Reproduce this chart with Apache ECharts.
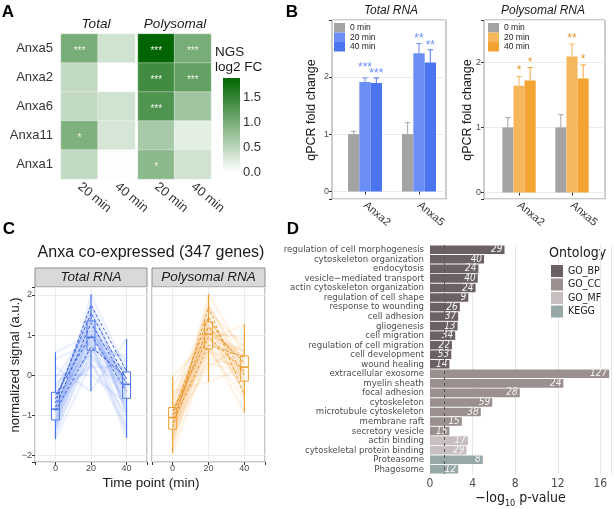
<!DOCTYPE html>
<html>
<head>
<meta charset="utf-8">
<script src="https://cdn.jsdelivr.net/npm/echarts@6/dist/echarts.min.js"></script>
<style>
html, body { margin: 0; padding: 0; background: #fff; }
#chart { width: 614px; height: 509px; }
</style>
</head>
<body>
<div id="chart"></div>
<script>
// ---------- A: NGS heatmap ----------
var heatGenes = ['Anxa5', 'Anxa2', 'Anxa6', 'Anxa11', 'Anxa1'];
var heatTimes = ['20 min', '40 min'];
var heatTotal = [[1.0, 0.35], [0.45, 0.0], [0.45, 0.35], [0.95, 0.3], [0.45, 0.02]]; // [20, 40] per gene
var heatPoly = [[1.88, 1.0], [1.4, 1.15], [1.3, 0.7], [0.65, 0.2], [0.85, 0.35]];
var starsTotal = [['***', ''], ['', ''], ['', ''], ['*', ''], ['', '']];
var starsPoly = [['***', '***'], ['***', '***'], ['***', ''], ['', ''], ['*', '']];
var heatMax = 1.88;

// ---------- B: qPCR ----------
var qpcrGenes = ['Anxa2', 'Anxa5'];
var qpcrTimes = ['0 min', '20 min', '40 min'];
var totalMean0 = [1.0, 1.0];
var totalMean20 = [1.91, 2.41];
var totalMean40 = [1.89, 2.25];
var totalErr0 = [1.05, 1.2];
var totalErr20 = [1.98, 2.58];
var totalErr40 = [1.98, 2.47];
var totalStars20 = ['***', '**'];
var totalStars40 = ['***', '**'];
var totalStarY20 = [2.21, 2.71];   // height of the star labels
var totalStarY40 = [2.09, 2.59];
var polyMean0 = [1.0, 1.0];
var polyMean20 = [1.64, 2.09];
var polyMean40 = [1.72, 1.75];
var polyErr0 = [1.15, 1.195];
var polyErr20 = [1.78, 2.28];
var polyErr40 = [1.92, 1.96];
var polyStars20 = ['*', '**'];
var polyStars40 = ['*', '*'];
var polyStarY20 = [1.91, 2.4];
var polyStarY40 = [2.03, 2.08];

// ---------- C: co-expressed genes ----------
var timePoints = [0, 20, 40];
var totalGenes = [
  [-1.6, 0.3, -1.0], [-1.5, 0.8, -1.4], [-1.4, 1.2, -0.9], [-1.35, 0.5, -0.6], [-1.3, 1.6, -0.3],
  [-1.25, 0.9, -1.2], [-1.2, 1.4, -0.5], [-1.15, 0.6, -0.2], [-1.1, 1.1, -0.8], [-1.05, 1.8, -0.4],
  [-1.0, 0.7, 0.1], [-0.95, 1.3, -0.7], [-0.9, 0.95, -0.25], [-0.88, 1.5, -1.0], [-0.85, 0.4, -0.35],
  [-0.83, 1.0, 0.3], [-0.8, 1.2, -0.6], [-0.75, 0.75, -0.1], [-0.7, 1.7, -0.45], [-0.65, 0.85, 0.05],
  [-0.6, 1.35, -0.9], [-0.55, 0.6, 0.5], [-0.5, 1.1, -0.15], [-0.45, 0.2, 0.2], [-0.4, 1.45, -0.55],
  [-0.3, 0.9, 0.4], [-0.2, 0.5, -0.3], [-0.1, 1.25, 0.0], [0.0, 0.0, -0.7], [0.2, -0.4, 0.9],
  [0.4, 0.8, -1.57], [0.57, 1.0, -0.2], [-1.2, 2.0, 0.1], [-0.7, 0.3, -1.3]
];
var polyGenes = [
  [-1.95, 0.6, 0.3], [-1.8, 1.2, -0.5], [-1.7, 0.9, 0.6], [-1.6, 1.5, -0.2], [-1.5, 0.4, 0.2],
  [-1.45, 1.1, 0.9], [-1.4, 0.7, -0.1], [-1.35, 1.35, 0.4], [-1.3, 1.8, 0.0], [-1.25, 0.8, 0.5],
  [-1.2, 1.0, -0.4], [-1.15, 1.25, 0.25], [-1.1, 0.55, 0.1], [-1.08, 1.6, 0.7], [-1.05, 0.95, -0.15],
  [-1.0, 1.15, 0.35], [-0.97, 0.65, -0.6], [-0.95, 1.4, 0.15], [-0.9, 0.85, 1.27], [-0.85, 1.05, 0.45],
  [-0.82, 1.3, -0.3], [-0.78, 0.3, 0.05], [-0.7, 1.7, 0.3], [-0.6, 0.75, -0.94], [-0.5, 1.0, 0.6],
  [-0.4, -0.17, 0.2], [-0.3, 1.2, -0.05], [-0.04, 0.9, 0.1], [-1.6, 2.02, 0.5], [-1.25, 0.2, 0.8]
];
var totalAnxa = [[-0.7, 1.75, 0.1], [-0.6, 1.55, -0.1], [-0.8, 1.3, -0.2], [-0.5, 1.0, -0.4], [-0.9, 0.7, -0.05]];
var polyAnxa = [[-1.3, 1.7, -0.5], [-1.0, 1.45, 0.0], [-1.1, 1.2, 0.3], [-0.9, 0.95, 0.1], [-1.2, 0.75, 0.45]];
// [time, low, q1, median, q3, high]
var totalBox = [[0, -1.6, -1.12, -0.85, -0.43, 0.57], [20, -0.4, 0.62, 0.94, 1.35, 2.02], [40, -1.57, -0.58, -0.23, 0.08, 0.9]];
var polyBox = [[0, -1.95, -1.35, -1.06, -0.81, -0.04], [20, -0.17, 0.65, 1.02, 1.33, 2.02], [40, -0.94, -0.15, 0.2, 0.48, 1.27]];

// ---------- D: enrichment ----------
var goTerms = ['regulation of cell morphogenesis', 'cytoskeleton organization', 'endocytosis',
  'vesicle\u2212mediated transport', 'actin cytoskeleton organization', 'regulation of cell shape',
  'response to wounding', 'cell adhesion', 'gliogenesis', 'cell migration', 'regulation of cell migration',
  'cell development', 'wound healing', 'extracellular exosome', 'myelin sheath', 'focal adhesion',
  'cytoskeleton', 'microtubule cytoskeleton', 'membrane raft', 'secretory vesicle', 'actin binding',
  'cytoskeletal protein binding', 'Proteasome', 'Phagosome'];
var goPval = [7.0, 5.08, 4.55, 4.49, 4.28, 3.6, 2.8, 2.65, 2.59, 2.37, 2.06, 2.0, 1.82,
  16.83, 12.53, 8.43, 5.85, 4.77, 2.99, 1.82, 3.57, 3.42, 4.96, 2.65];
var goCount = [29, 40, 24, 40, 24, 9, 26, 37, 13, 34, 22, 53, 14, 127, 24, 28, 59, 38, 15, 15, 17, 29, 8, 12];
var goOntology = ['GO_BP', 'GO_BP', 'GO_BP', 'GO_BP', 'GO_BP', 'GO_BP', 'GO_BP', 'GO_BP', 'GO_BP', 'GO_BP',
  'GO_BP', 'GO_BP', 'GO_BP', 'GO_CC', 'GO_CC', 'GO_CC', 'GO_CC', 'GO_CC', 'GO_CC', 'GO_CC',
  'GO_MF', 'GO_MF', 'KEGG', 'KEGG'];
var ontologies = ['GO_BP', 'GO_CC', 'GO_MF', 'KEGG'];
var pCutoff = 1.3;

// ---------- styling ----------
var FONT = "'Liberation Sans', Arial, sans-serif";
var NARROW = "'Liberation Sans Narrow', 'Arial Narrow', 'DejaVu Sans Condensed', sans-serif";
var ontologyColors = ['#6b6163', '#9b8f8f', '#c7bfc0', '#96a8a8'];
var grey = '#a3a3a3';
var blue20 = '#6b8ff7', blue40 = '#4a74f0', blueDark = '#3a62e0', blueLine = '#7096f5';
var orange20 = '#f5b65c', orange40 = '#f2a332', orangeDark = '#e8962a', orangeLine = '#f5ad4a';
var axisText = '#4d4d4d';
var gridCol = '#ebebeb';

function intOnly(v) {
  if (Math.abs(v - Math.round(v)) > 1e-6) return '';
  var r = Math.round(v);
  return r < 0 ? '\u2212' + Math.abs(r) : String(r);
}

function heatData(vals) {
  var out = [];
  vals.forEach(function (row, gi) {
    row.forEach(function (v, ti) { out.push([ti, gi, v]); });
  });
  return out;
}

function heatSeries(idx, vals, stars) {
  return {
    type: 'heatmap', xAxisIndex: idx, yAxisIndex: idx,
    data: heatData(vals),
    itemStyle: { borderColor: 'rgba(255,255,255,0.35)', borderWidth: 1 },
    label: {
      show: true, color: '#eef5ea', fontSize: 10, fontFamily: FONT, offset: [0, 3],
      formatter: function (p) { return stars[p.value[1]][p.value[0]]; }
    }
  };
}

function barSeries(idx, name, data, color) {
  return {
    name: name, type: 'bar', xAxisIndex: idx, yAxisIndex: idx,
    barWidth: '21%', barGap: '0%', data: data, itemStyle: { color: color }
  };
}

function errSeries(idx, means, errs, stars, starY, slot, color, starColor) {
  return {
    type: 'custom', xAxisIndex: idx, yAxisIndex: idx, z: 5, silent: true,
    encode: { x: 0, y: [1, 2] },
    data: means.map(function (m, i) { return [i, m, errs[i], starY ? starY[i] : errs[i]]; }),
    renderItem: function (params, api) {
      var band = api.size([1, 0])[0];
      var base = api.coord([api.value(0), api.value(1)]);
      var hi = api.coord([api.value(0), api.value(2)]);
      var sp = api.coord([api.value(0), api.value(3)]);
      var x = base[0] + slot * band * 0.21;
      var cap = band * 0.05;
      var kids = [
        { type: 'line', shape: { x1: x, y1: base[1], x2: x, y2: hi[1] }, style: { stroke: color, lineWidth: 1 } },
        { type: 'line', shape: { x1: x - cap, y1: hi[1], x2: x + cap, y2: hi[1] }, style: { stroke: color, lineWidth: 1 } }
      ];
      var s = stars ? stars[params.dataIndex] : '';
      if (s) {
        kids.push({ type: 'text', x: x, y: sp[1] + 2.5,
          style: { text: s, fill: starColor, fontSize: 12, fontFamily: FONT, align: 'center', verticalAlign: 'middle' } });
      }
      return { type: 'group', children: kids };
    }
  };
}

function geneLines(idx, genes, color) {
  return genes.map(function (g) {
    return {
      type: 'line', xAxisIndex: idx, yAxisIndex: idx, silent: true, showSymbol: false,
      data: timePoints.map(function (t, k) { return [t, g[k]]; }),
      lineStyle: { color: color, width: 2.5, opacity: 0.13 }
    };
  });
}

function anxaLines(idx, genes, color) {
  return genes.map(function (g) {
    return {
      type: 'line', xAxisIndex: idx, yAxisIndex: idx, silent: true, showSymbol: false, z: 4,
      data: timePoints.map(function (t, k) { return [t, g[k]]; }),
      lineStyle: { color: color, width: 1, type: [3, 2] }
    };
  });
}

function boxSeries(idx, boxes, color) {
  return {
    type: 'custom', xAxisIndex: idx, yAxisIndex: idx, silent: true, z: 3,
    encode: { x: 0, y: [1, 5] },
    data: boxes,
    renderItem: function (params, api) {
      var t = api.value(0);
      var pLow = api.coord([t, api.value(1)]);
      var pQ1 = api.coord([t, api.value(2)]);
      var pMed = api.coord([t, api.value(3)]);
      var pQ3 = api.coord([t, api.value(4)]);
      var pHigh = api.coord([t, api.value(5)]);
      var cx = pQ1[0], w = 8;
      return { type: 'group', children: [
        { type: 'line', shape: { x1: cx, y1: pHigh[1], x2: cx, y2: pQ3[1] }, style: { stroke: color, lineWidth: 1.2 } },
        { type: 'line', shape: { x1: cx, y1: pQ1[1], x2: cx, y2: pLow[1] }, style: { stroke: color, lineWidth: 1.2 } },
        { type: 'rect', shape: { x: cx - w / 2, y: pQ3[1], width: w, height: pQ1[1] - pQ3[1] },
          style: { stroke: color, fill: 'rgba(255,255,255,0.45)', lineWidth: 1 } },
        { type: 'line', shape: { x1: cx - w / 2, y1: pMed[1], x2: cx + w / 2, y2: pMed[1] }, style: { stroke: color, lineWidth: 1.6 } }
      ] };
    }
  };
}

function txt(s, x, y, st, align, rot) {
  return {
    type: 'text', x: x, y: y, rotation: rot || 0, silent: true,
    style: Object.assign({ text: s, fill: '#1a1a1a', fontFamily: FONT, fontSize: 13,
      align: align || 'center', verticalAlign: 'middle' }, st || {})
  };
}

var ontologySeries = ontologies.map(function (o, k) {
  var s = {
    name: o, type: 'bar', xAxisIndex: 9, yAxisIndex: 9, barWidth: '90%', barGap: '-100%',
    itemStyle: { color: ontologyColors[k] },
    label: {
      show: true, position: 'insideRight', distance: 2, color: '#f4f4f4', fontStyle: 'italic',
      fontSize: 10, fontFamily: NARROW,
      formatter: function (p) { return goCount[p.dataIndex]; }
    },
    data: goPval.map(function (v, i) { return goOntology[i] === o ? v : '-'; })
  };
  if (k === 0) {
    s.markLine = {
      silent: true, symbol: ['none', 'none'], label: { show: false },
      lineStyle: { color: '#555', width: 1, type: [3, 3] },
      data: [{ xAxis: pCutoff }]
    };
  }
  return s;
});

var catAxisA = {
  type: 'category', data: heatTimes, axisLine: { show: false }, axisTick: { show: false },
  axisLabel: { rotate: -40, fontSize: 13, color: '#333', margin: 6, fontFamily: FONT }
};
var catAxisB = {
  type: 'category', data: qpcrGenes, axisLine: { show: false },
  axisTick: { show: true, alignWithLabel: true, length: 3, lineStyle: { color: '#333' } },
  axisLabel: { rotate: -40, fontSize: 11, color: '#333', margin: 5, fontFamily: FONT }
};
var valAxisC = {
  type: 'value', min: -11.5, max: 51.5, splitNumber: 3,
  axisLine: { show: false, onZero: false }, axisTick: { length: 3, lineStyle: { color: '#333' } },
  axisLabel: { fontSize: 9, color: axisText, margin: 2, fontFamily: FONT,
    formatter: function (v) { return Math.abs(v % 20) < 1e-6 ? String(v) : ''; } },
  splitLine: { lineStyle: { color: gridCol } }
};
function frameY(idx, min, max) {
  return {
    gridIndex: idx, type: 'value', min: min, max: max, splitNumber: 3,
    axisLine: { show: false, onZero: false }, axisTick: { length: 3, lineStyle: { color: '#333' } },
    axisLabel: { fontSize: 9, color: axisText, margin: 3, fontFamily: FONT, formatter: intOnly },
    splitLine: { lineStyle: { color: gridCol } }
  };
}

var option = {
  animation: false,
  backgroundColor: '#fff',
  textStyle: { fontFamily: FONT },
  grid: [
    { left: 61, top: 34, width: 74, height: 145 },
    { left: 138, top: 34, width: 73, height: 145 },
    { left: 223, top: 78, width: 17, height: 94 },
    { left: 332, top: 20, width: 114, height: 179, show: true, borderColor: '#9a9a9a', borderWidth: 1 },
    { left: 338, top: 20, width: 108, height: 179 },
    { left: 484, top: 20, width: 121, height: 179, show: true, borderColor: '#9a9a9a', borderWidth: 1 },
    { left: 492.5, top: 20, width: 106, height: 179 },
    { left: 35, top: 287, width: 112, height: 175, show: true, borderColor: '#8c8c8c', borderWidth: 1 },
    { left: 152, top: 287, width: 113, height: 175, show: true, borderColor: '#8c8c8c', borderWidth: 1 },
    { left: 430, top: 245, width: 184, height: 232 }
  ],
  xAxis: [
    Object.assign({ gridIndex: 0 }, catAxisA),
    Object.assign({ gridIndex: 1 }, catAxisA),
    { gridIndex: 2, type: 'category', data: ['scale'], show: false },
    { gridIndex: 3, type: 'value', min: 0, max: 1, show: false },
    Object.assign({ gridIndex: 4 }, catAxisB),
    { gridIndex: 5, type: 'value', min: 0, max: 1, show: false },
    Object.assign({ gridIndex: 6 }, catAxisB),
    Object.assign({ gridIndex: 7 }, valAxisC),
    Object.assign({ gridIndex: 8 }, valAxisC),
    {
      gridIndex: 9, type: 'value', min: 0, max: 17, interval: 4,
      axisLine: { show: false, onZero: false }, axisTick: { length: 3, lineStyle: { color: '#333' } },
      axisLabel: { fontSize: 12, color: axisText, margin: 4, fontFamily: NARROW,
        formatter: function (v) { return v % 4 === 0 ? String(v) : ''; } },
      splitLine: { lineStyle: { color: '#e6e6e6' } },
      name: '{a|\u2212log}{s|10}{a| p-value}', nameLocation: 'middle', nameGap: 17,
      nameTextStyle: {
        rich: {
          a: { fontSize: 14, fontFamily: NARROW, color: '#1a1a1a', lineHeight: 16, verticalAlign: 'top' },
          s: { fontSize: 9, fontFamily: NARROW, color: '#1a1a1a', lineHeight: 16, verticalAlign: 'top', padding: [8, 0, 0, 0] }
        }
      }
    }
  ],
  yAxis: [
    { gridIndex: 0, type: 'category', data: heatGenes, inverse: true, axisLine: { show: false }, axisTick: { show: false },
      axisLabel: { fontSize: 13, color: '#333', margin: 8, fontFamily: FONT } },
    { gridIndex: 1, type: 'category', data: heatGenes, inverse: true, show: false },
    { gridIndex: 2, type: 'value', min: 0, max: heatMax, interval: 0.5, position: 'right',
      axisLine: { show: false }, splitLine: { show: false },
      axisTick: { show: true, inside: true, length: 3, lineStyle: { color: '#fff' } },
      axisLabel: { fontSize: 13, color: '#333', margin: 3, fontFamily: FONT,
        formatter: function (v) { return Math.abs(v * 2 - Math.round(v * 2)) < 1e-6 ? v.toFixed(1) : ''; } } },
    frameY(3, -0.13, 2.99),
    { gridIndex: 4, type: 'value', min: -0.13, max: 2.99, show: false },
    frameY(5, -0.1, 2.65),
    { gridIndex: 6, type: 'value', min: -0.1, max: 2.65, show: false },
    { gridIndex: 7, type: 'value', min: -2.17, max: 2.2, splitNumber: 4,
      axisLine: { show: false, onZero: false }, axisTick: { length: 3, lineStyle: { color: '#333' } },
      axisLabel: { fontSize: 9, color: axisText, margin: 3, fontFamily: FONT, formatter: intOnly },
      splitLine: { lineStyle: { color: gridCol } } },
    { gridIndex: 8, type: 'value', min: -2.17, max: 2.2, splitNumber: 4,
      axisLine: { show: false, onZero: false }, axisTick: { show: false }, axisLabel: { show: false },
      splitLine: { lineStyle: { color: gridCol } } },
    { gridIndex: 9, type: 'category', data: goTerms, inverse: true,
      axisLine: { show: false }, axisTick: { length: 3, lineStyle: { color: '#555' } },
      axisLabel: { interval: 0, fontSize: 9.5, color: axisText, margin: 6, fontFamily: NARROW } }
  ],
  visualMap: {
    show: false, seriesIndex: [0, 1], min: 0, max: heatMax, dimension: 2,
    inRange: { color: ['#ffffff', '#006400'] }
  },
  legend: [
    { data: [{ name: '0 min', itemStyle: { color: grey } }, { name: '20 min', itemStyle: { color: blue20 } },
        { name: '40 min', itemStyle: { color: blue40 } }],
      left: 334, top: 23, orient: 'vertical', itemWidth: 11, itemHeight: 9.5, itemGap: 0, icon: 'rect',
      padding: 0, selectedMode: false, textStyle: { fontSize: 8.5, color: '#1a1a1a', fontFamily: FONT } },
    { data: [{ name: '0 min', itemStyle: { color: grey } }, { name: '20 min', itemStyle: { color: orange20 } },
        { name: '40 min', itemStyle: { color: orange40 } }],
      left: 488, top: 23, orient: 'vertical', itemWidth: 11, itemHeight: 9.5, itemGap: 0, icon: 'rect',
      padding: 0, selectedMode: false, textStyle: { fontSize: 8.5, color: '#1a1a1a', fontFamily: FONT } },
    { data: ontologies, left: 551, top: 265, orient: 'vertical', itemWidth: 12, itemHeight: 12, itemGap: 1.5,
      icon: 'rect', padding: 0, selectedMode: false,
      textStyle: { fontSize: 10.5, color: '#1a1a1a', fontFamily: NARROW } }
  ],
  series: [].concat(
    [heatSeries(0, heatTotal, starsTotal), heatSeries(1, heatPoly, starsPoly)],
    [{
      type: 'bar', xAxisIndex: 2, yAxisIndex: 2, silent: true, barWidth: '100%', data: [heatMax],
      itemStyle: { color: new echarts.graphic.LinearGradient(0, 0, 0, 1, [
        { offset: 0, color: '#006400' }, { offset: 1, color: '#ffffff' }]) }
    }],
    [barSeries(4, '0 min', totalMean0, grey), barSeries(4, '20 min', totalMean20, blue20), barSeries(4, '40 min', totalMean40, blue40),
     errSeries(4, totalMean0, totalErr0, null, null, -1, grey, grey),
     errSeries(4, totalMean20, totalErr20, totalStars20, totalStarY20, 0, blue20, blue20),
     errSeries(4, totalMean40, totalErr40, totalStars40, totalStarY40, 1, blue40, blue20)],
    [barSeries(6, '0 min', polyMean0, grey), barSeries(6, '20 min', polyMean20, orange20), barSeries(6, '40 min', polyMean40, orange40),
     errSeries(6, polyMean0, polyErr0, null, null, -1, grey, grey),
     errSeries(6, polyMean20, polyErr20, polyStars20, polyStarY20, 0, orange20, orangeDark),
     errSeries(6, polyMean40, polyErr40, polyStars40, polyStarY40, 1, orange40, orangeDark)],
    geneLines(7, totalGenes, blueLine),
    geneLines(8, polyGenes, orangeLine),
    [boxSeries(7, totalBox, '#4a72ea'), boxSeries(8, polyBox, '#eea032')],
    anxaLines(7, totalAnxa, blueDark),
    anxaLines(8, polyAnxa, orangeDark),
    ontologySeries
  ),
  graphic: [
    txt('A', 8, 12, { fontSize: 17, fontWeight: 'bold', fill: '#000' }),
    txt('B', 292, 12, { fontSize: 17, fontWeight: 'bold', fill: '#000' }),
    txt('C', 9, 229, { fontSize: 17, fontWeight: 'bold', fill: '#000' }),
    txt('D', 293, 229, { fontSize: 17, fontWeight: 'bold', fill: '#000' }),
    txt('Total', 96, 24, { fontSize: 13.5, fontStyle: 'italic' }),
    txt('Polysomal', 175, 24, { fontSize: 13.5, fontStyle: 'italic' }),
    txt('NGS', 215, 52, { fontSize: 13.5 }, 'left'),
    txt('log2 FC', 215, 67, { fontSize: 13.5 }, 'left'),
    txt('Total RNA', 391, 11, { fontSize: 12, fontStyle: 'italic' }),
    txt('Polysomal RNA', 543, 11, { fontSize: 12, fontStyle: 'italic' }),
    txt('qPCR fold change', 312, 110, { fontSize: 12.5 }, 'center', Math.PI / 2),
    txt('qPCR fold change', 468, 110, { fontSize: 12.5 }, 'center', Math.PI / 2),
    txt('Anxa co-expressed (347 genes)', 151, 253, { fontSize: 16 }),
    { type: 'rect', shape: { x: 35, y: 268, width: 112, height: 19 }, style: { fill: '#d9d9d9', stroke: '#8c8c8c', lineWidth: 1 }, silent: true },
    { type: 'rect', shape: { x: 152, y: 268, width: 113, height: 19 }, style: { fill: '#d9d9d9', stroke: '#8c8c8c', lineWidth: 1 }, silent: true },
    txt('Total RNA', 91, 277.5, { fontSize: 13.5, fontStyle: 'italic' }),
    txt('Polysomal RNA', 208.5, 277.5, { fontSize: 13.5, fontStyle: 'italic' }),
    txt('normalized signal (a.u.)', 15, 365, { fontSize: 13 }, 'center', Math.PI / 2),
    txt('Time point (min)', 151, 483, { fontSize: 13.5 }),
    txt('Ontology', 549, 253, { fontSize: 14, fontFamily: NARROW }, 'left')
  ]
};

var chart = echarts.init(document.getElementById('chart'));
chart.setOption(option);
window.addEventListener('resize', function () { chart.resize(); });
</script>
</body>
</html>
